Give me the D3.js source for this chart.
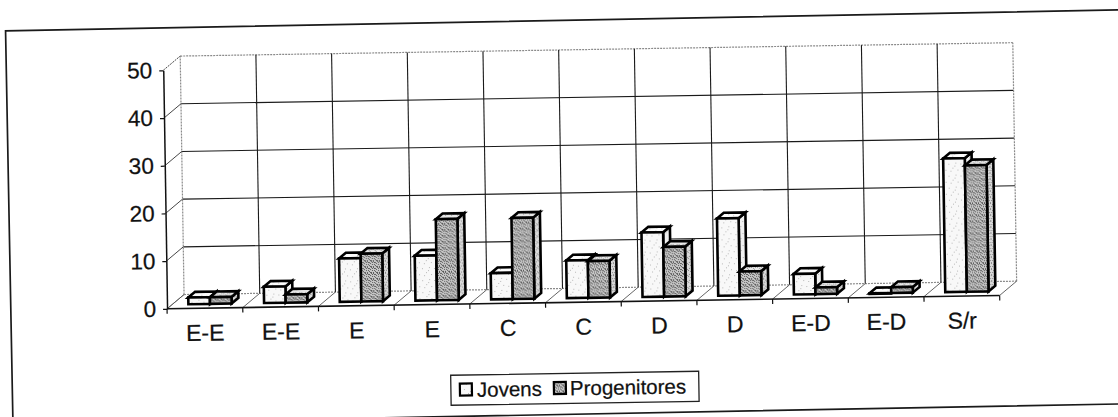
<!DOCTYPE html>
<html>
<head>
<meta charset="utf-8">
<script src="https://cdn.jsdelivr.net/npm/d3@7"></script>
<style>
  html, body { margin: 0; padding: 0; background: #fff; }
  svg { display: block; }
  text { font-family: "Liberation Sans", Arial, sans-serif; fill: #111; stroke: #111; stroke-width: 0.25px; }
</style>
</head>
<body>
<svg id="chart" width="1118" height="417"></svg>
<script>
// Categories along the floor (repeated names are separate groups)
const categories = ["E-E", "E-E", "E", "E", "C", "C", "D", "D", "E-D", "E-D", "S/r"];
// Series values (%)
const jovens       = [1.4, 3.4, 9.1, 9.4, 5.5, 7.9, 13.5, 16.2, 4.3, 0, 28];
const progenitores = [1.4, 1.7, 10, 17, 17, 7.7, 10.4, 5, 1.4, 1.2, 26.5];
const seriesNames  = ["Jovens", "Progenitores"];
const yTicks       = [0, 10, 20, 30, 40, 50];

const svg = d3.select("#chart");
const defs = svg.append("defs");

// Stippled fills, a fixed dot layout per tile
function stipple(id, base, dot, pts, size) {
  const p = defs.append("pattern").attr("id", id)
    .attr("patternUnits", "userSpaceOnUse").attr("width", size).attr("height", size);
  p.append("rect").attr("width", size).attr("height", size).attr("fill", base);
  pts.forEach(([px, py]) => p.append("rect").attr("x", px).attr("y", py)
    .attr("width", 1).attr("height", 1).attr("fill", dot));
}
const sparse = [[1, 2], [5, 6], [3, 9], [8, 1], [7, 4], [10, 8]];
const dense  = [[0, 0], [2, 1], [4, 0], [1, 3], [3, 2], [5, 3], [0, 5], [2, 4], [4, 5], [3, 5], [5, 1], [1, 1]];
stipple("jFront", "#f8f8f8", "#b8b8b8", sparse, 12);
stipple("jSide",  "#f1f1f1", "#b0b0b0", sparse, 12);
stipple("jTop",   "#fcfcfc", "#c8c8c8", sparse, 12);
stipple("pFront", "#c8c8c8", "#5a5a5a", dense, 6);
stipple("pSide",  "#dadada", "#8a8a8a", dense.slice(0, 7), 6);
stipple("pTop",   "#e6e6e6", "#9a9a9a", dense.slice(0, 5), 6);
const fills = [
  { front: "url(#jFront)", side: "url(#jSide)", top: "url(#jTop)" },
  { front: "url(#pFront)", side: "url(#pSide)", top: "url(#pTop)" }
];

// Outer frame
svg.append("rect")
  .attr("transform", "rotate(-1.08 559 208)")
  .attr("x", 9).attr("y", 20.5).attr("width", 1150).attr("height", 394)
  .attr("fill", "none").attr("stroke", "#1a1a1a").attr("stroke-width", 1.7);

const g = svg.append("g").attr("transform", "rotate(-0.92 559 208)");

// 3D geometry
const x0 = 165.5, W = 832.7;
const dep = { x: 17.2, y: -14 };
const x = d3.scaleBand().domain(d3.range(categories.length)).range([x0, x0 + W]);
const y = d3.scaleLinear().domain([0, 50]).range([302.5, 64]);
const bw = x.bandwidth();
const barW = bw / 3.5;
const inner = d3.scaleBand().domain(d3.range(seriesNames.length))
  .range([0.75 * barW, 2.75 * barW]);
const edge = i => (i < categories.length ? x(i) : x0 + W);

// Back wall: horizontal grid
yTicks.forEach(t => {
  const ends = t === 0 || t === 50;
  g.append("line")
    .attr("x1", x0 + dep.x).attr("x2", x0 + W + dep.x)
    .attr("y1", y(t) + dep.y).attr("y2", y(t) + dep.y)
    .attr("stroke", ends ? "#8a8a8a" : "#1a1a1a")
    .attr("stroke-width", ends ? 1.2 : 1.1)
    .attr("stroke-dasharray", ends ? "2,1" : null);
});
// Back wall: vertical grid at category boundaries
d3.range(categories.length + 1).forEach(i => {
  const ends = i === 0 || i === categories.length;
  g.append("line")
    .attr("x1", edge(i) + dep.x).attr("x2", edge(i) + dep.x)
    .attr("y1", y(0) + dep.y).attr("y2", y(50) + dep.y)
    .attr("stroke", ends ? "#8a8a8a" : "#1a1a1a")
    .attr("stroke-width", ends ? 1.2 : 1.1)
    .attr("stroke-dasharray", ends ? "2,1" : null);
});
// Side wall diagonals
yTicks.forEach(t => {
  g.append("line")
    .attr("x1", x0).attr("y1", y(t))
    .attr("x2", x0 + dep.x).attr("y2", y(t) + dep.y)
    .attr("stroke", t === 0 ? "#777" : "#333").attr("stroke-width", 0.9)
    .attr("stroke-dasharray", t === 50 ? "2,1" : null);
});
// Floor diagonals
d3.range(categories.length + 1).forEach(i => {
  g.append("line")
    .attr("x1", edge(i)).attr("y1", y(0))
    .attr("x2", edge(i) + dep.x).attr("y2", y(0) + dep.y)
    .attr("stroke", "#555").attr("stroke-width", 0.9);
});

// Value axis on the front-left edge
const yAxis = g.append("g").attr("transform", `translate(${x0},0)`)
  .call(d3.axisLeft(y).tickValues(yTicks).tickSize(4).tickSizeOuter(0).tickPadding(7));
yAxis.select(".domain").attr("stroke", "#111").attr("stroke-width", 1.5);
yAxis.selectAll(".tick line").attr("stroke", "#111").attr("stroke-width", 1.2);
yAxis.selectAll("text").attr("font-size", 22.5).attr("fill", "#111")
  .attr("font-family", "'Liberation Sans', Arial, sans-serif");

// Floor front edge with boundary ticks
g.append("line").attr("x1", x0).attr("x2", x0 + W)
  .attr("y1", y(0)).attr("y2", y(0)).attr("stroke", "#111").attr("stroke-width", 1.6);
d3.range(categories.length + 1).forEach(i => {
  g.append("line").attr("x1", edge(i)).attr("x2", edge(i))
    .attr("y1", y(0)).attr("y2", y(0) + 5).attr("stroke", "#111").attr("stroke-width", 1.2);
});

// Category labels
g.selectAll(".cat").data(categories).join("text")
  .attr("class", "cat")
  .attr("x", (d, i) => x(i) + bw / 2)
  .attr("y", y(0) + 32.5)
  .attr("text-anchor", "middle")
  .attr("font-size", 23)
  .text(d => d);

// Bars, drawn left to right so right-hand faces overlap correctly
const front = { x: dep.x * 0.3, y: dep.y * 0.3 };
const deep = { x: dep.x * 0.4, y: dep.y * 0.4 };
const series = [jovens, progenitores];
const bars = g.append("g");
categories.forEach((c, i) => {
  series.forEach((vals, s) => {
    const v = vals[i];
    const xl = x(i) + inner(s) + front.x;
    const xr = xl + barW;
    const yb = y(0) + front.y;
    const yt = y(v) + front.y;
    const b = bars.append("g")
      .attr("stroke", "#000").attr("stroke-width", 2.6).attr("stroke-linejoin", "miter");
    // side face
    b.append("path").attr("fill", fills[s].side)
      .attr("d", `M${xr},${yb}L${xr + deep.x},${yb + deep.y}L${xr + deep.x},${yt + deep.y}L${xr},${yt}Z`);
    // top face
    b.append("path").attr("fill", fills[s].top)
      .attr("d", `M${xl},${yt}L${xl + deep.x},${yt + deep.y}L${xr + deep.x},${yt + deep.y}L${xr},${yt}Z`);
    // front face
    b.append("rect").attr("fill", fills[s].front)
      .attr("x", xl).attr("y", yt).attr("width", barW).attr("height", Math.max(yb - yt, 0.5));
  });
});

// Legend
const leg = g.append("g").attr("transform", "translate(448,373.5)");
leg.append("rect").attr("width", 248).attr("height", 30)
  .attr("fill", "#fff").attr("stroke", "#222").attr("stroke-width", 1.3);
const legX = [9, 103];
const legGap = [17, 16];
seriesNames.forEach((name, s) => {
  leg.append("rect").attr("x", legX[s]).attr("y", 8.5).attr("width", 12).attr("height", 12)
    .attr("fill", fills[s].front).attr("stroke", "#000").attr("stroke-width", 2.2);
  leg.append("text").attr("x", legX[s] + legGap[s]).attr("y", 22)
    .attr("font-size", 20.5).text(name);
});
</script>
</body>
</html>
